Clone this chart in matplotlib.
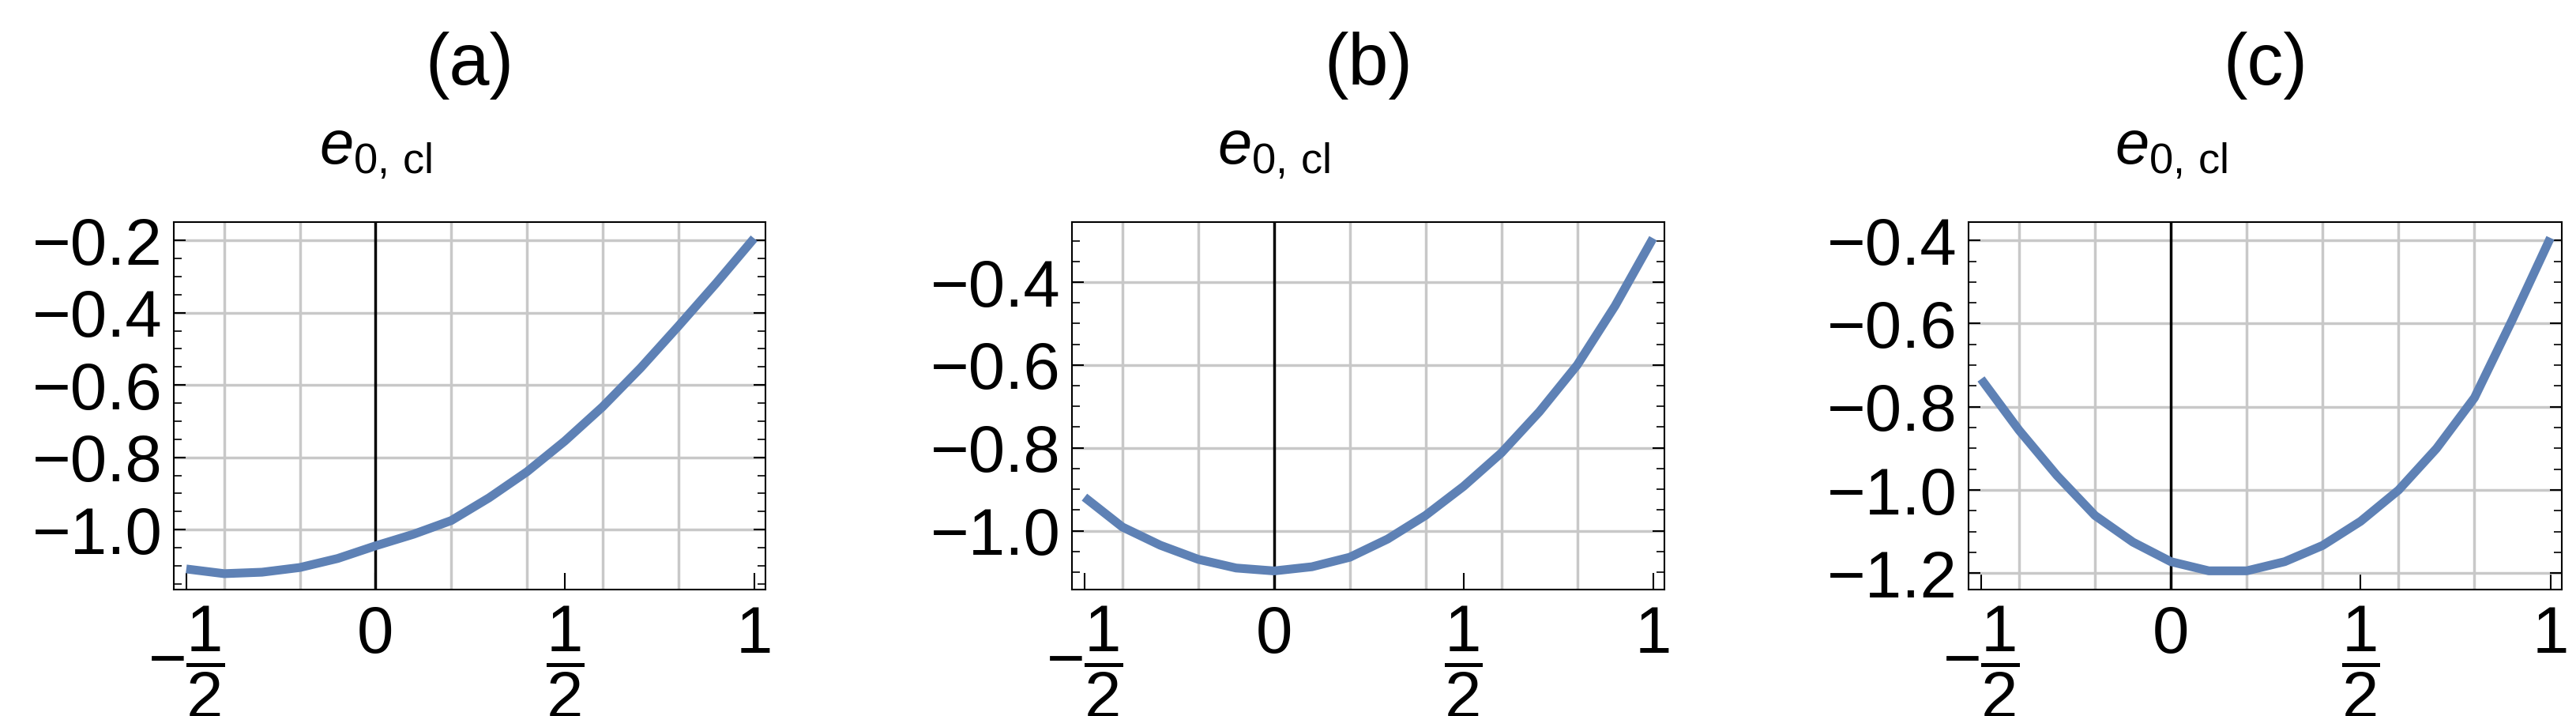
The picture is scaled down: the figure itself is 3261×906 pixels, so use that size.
import numpy as np
import matplotlib
matplotlib.use('Agg')
import matplotlib.pyplot as plt
from matplotlib.ticker import MultipleLocator, FixedLocator

plt.rcParams['font.family'] = ['Liberation Sans', 'DejaVu Sans']
plt.rcParams['mathtext.fontset'] = 'custom'
plt.rcParams['mathtext.rm'] = 'Liberation Sans'
plt.rcParams['mathtext.it'] = 'Liberation Sans:italic'

# data
x = [-0.5, -0.4, -0.3, -0.2, -0.1, 0.0, 0.1, 0.2, 0.3, 0.4, 0.5, 0.6, 0.7, 0.8, 0.9, 1.0]
e_a = [-1.109, -1.122, -1.118, -1.105, -1.080, -1.045, -1.013, -0.975, -0.912, -0.840,
       -0.755, -0.660, -0.553, -0.437, -0.318, -0.194]
e_b = [-0.919, -0.991, -1.035, -1.069, -1.090, -1.097, -1.087, -1.064, -1.020, -0.963,
       -0.893, -0.812, -0.713, -0.600, -0.457, -0.294]
e_c = [-0.733, -0.856, -0.965, -1.061, -1.125, -1.172, -1.194, -1.194, -1.172, -1.133,
       -1.075, -1.000, -0.900, -0.778, -0.590, -0.394]
titles = ['(a)', '(b)', '(c)']
ylims = [(-1.166, -0.149), (-1.142, -0.255), (-1.239, -0.356)]
xticks = [-0.5, 0, 0.5, 1]
xticklabels = [r'$-\dfrac{1}{2}$', '0', r'$\dfrac{1}{2}$', '1']

W, H = 3262, 906
fig = plt.figure(figsize=(W / 100, H / 100), dpi=100)
# axes boxes in pixels: left, right, top, bottom
boxes = [(220, 969, 281, 746), (1357, 2107, 281, 746), (2492, 3243, 281, 746)]

for data, title, yl, (l, r, t, b) in zip([e_a, e_b, e_c], titles, ylims, boxes):
    ax = fig.add_axes([l / W, 1 - b / H, (r - l) / W, (b - t) / H])
    ax.plot(x, data, color='#5e81b5', lw=8, solid_capstyle='butt',
            solid_joinstyle='round', zorder=3)
    ax.axvline(0, color='black', lw=2.5, zorder=2)
    ax.set_xlim(-0.533, 1.03)
    ax.set_ylim(*yl)
    for gx in [-0.4, -0.2, 0.2, 0.4, 0.6, 0.8]:
        ax.axvline(gx, color='#c8c8c8', lw=2.5, zorder=1)
    ax.yaxis.set_major_locator(MultipleLocator(0.2))
    ax.yaxis.set_minor_locator(MultipleLocator(0.05))
    ax.grid(axis='y', which='major', color='#c8c8c8', lw=2.5, zorder=1)
    ax.set_yticklabels([f'{v:.1f}'.replace('-', '\u2212') for v in ax.get_yticks()])
    ax.xaxis.set_major_locator(FixedLocator(xticks))
    ax.set_xticklabels(xticklabels)
    ax.tick_params(axis='y', which='major', direction='in', left=True, right=True,
                   length=11, width=1.5, labelsize=60, pad=10)
    ax.tick_params(axis='y', which='minor', direction='in', left=True, right=True,
                   length=7, width=1.2)
    ax.tick_params(axis='x', which='major', direction='in', length=15, width=1.5,
                   labelsize=60, pad=14)
    for s in ax.spines.values():
        s.set_linewidth(1.5)
    ax.set_title(title, fontsize=66, pad=125)
    # axis label above the frame near x=0
    ax.text(0, 1.19, r'$e_{0,\,\mathrm{cl}}$', transform=ax.get_xaxis_transform(),
            ha='center', va='center', fontsize=56)

fig.savefig('out.png', dpi=100)
